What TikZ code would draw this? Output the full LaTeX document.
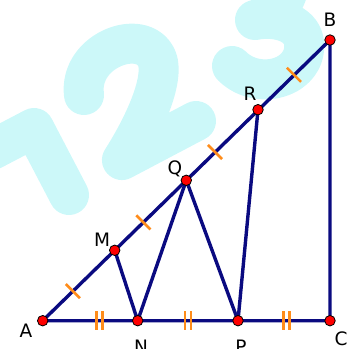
\documentclass[tikz,border=0pt]{standalone}
\usepackage{fontspec}
\setmainfont{DejaVu Sans}
\usetikzlibrary{calc}
\definecolor{navy}{HTML}{0A0A80}
\definecolor{tickor}{HTML}{FF8C1A}
\definecolor{wm}{HTML}{CCF8F9}
\tikzset{
  seg/.style={draw=navy,line width=3.4pt},
  pt/.style={circle,draw=black,fill=red,line width=0.8pt,inner sep=0pt,minimum size=10.5pt},
  lbl/.style={font=\fontsize{18.5}{18.5}\selectfont,text=black,inner sep=0pt},
  tk/.style={draw=tickor,line width=2.6pt},
  wmstroke/.style={draw=wm,line width=40pt,line cap=round,line join=round}
}
\begin{document}
\begin{tikzpicture}[x=1pt,y=-1pt]
\useasboundingbox (0,0) rectangle (348,349);
\begin{scope}
\clip (0,0) rectangle (348,349);
% watermark "123"
\draw[wmstroke] (-8,150) -- (34,128) -- (69,195);
\draw[wmstroke] (84,95) .. controls (78,48) and (148,25) .. (158,62)
  .. controls (163,88) and (138,135) .. (122,160) -- (196,121);
\draw[wmstroke] (232,66) .. controls (258,92) and (308,78) .. (304,42)
  .. controls (301,22) and (275,16) .. (255,20)
  .. controls (295,8) and (300,-30) .. (262,-36);
\end{scope}
\coordinate (A) at (42.7,320.7);
\coordinate (B) at (330,40);
\coordinate (C) at (330,320.7);
\coordinate (M) at (114.7,250.3);
\coordinate (Q) at (186.3,180.3);
\coordinate (R) at (258,109.7);
\coordinate (N) at (137.7,320.7);
\coordinate (P) at (238,320.7);
\draw[seg,line join=round] (A) -- (B) -- (C) -- cycle;
\draw[seg,line join=round] (M) -- (N) -- (Q) -- (P) -- (R);
% single ticks on AB
\foreach \s/\e/\f in {A/M/0.42, M/Q/0.40, Q/R/0.40, R/B/0.50}{
  \draw[tk] ($(\s)!\f!(\e)$) ++(45:10) -- ++(225:20);
}
% double ticks on AC
\foreach \s/\e/\f in {A/N/0.60, N/P/0.5, P/C/0.53}{
  \draw[tk] ($(\s)!\f!(\e)$) ++(-3,-9.5) -- ++(0,19);
  \draw[tk] ($(\s)!\f!(\e)$) ++(3,-9.5) -- ++(0,19);
}
\foreach \p in {A,B,C,M,Q,R,N,P}{
  \node[pt] (d\p) at (\p) {};
}
\node[lbl] (lA) at (26,331) {A};
\node[lbl] (lB) at (330,20) {B};
\node[lbl] (lC) at (341,339) {C};
\node[lbl] (lN) at (141,347) {N};
\node[lbl] (lP) at (241,347) {P};
\node[lbl] (lM) at (102,240) {M};
\node[lbl] (lQ) at (175,169) {Q};
\node[lbl] (lR) at (250,94) {R};
\end{tikzpicture}
\end{document}
